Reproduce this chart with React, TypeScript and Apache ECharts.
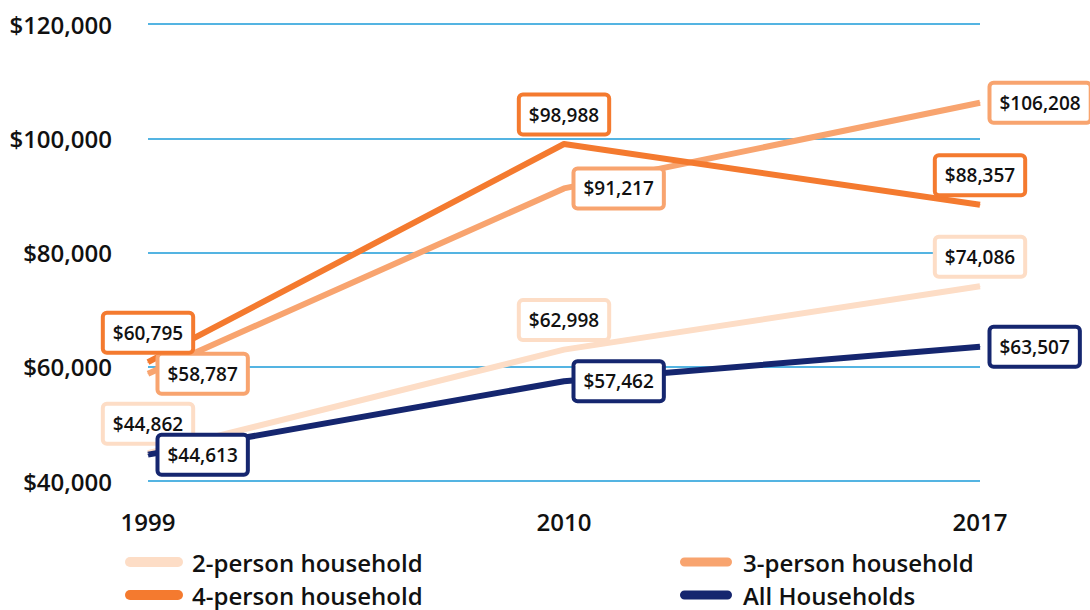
import React, { useEffect, useRef } from "react";
import * as echarts from "echarts";

const years = ["1999", "2010", "2017"];
const twoPerson = [44862, 62998, 74086];
const threePerson = [58787, 91217, 106208];
const fourPerson = [60795, 98988, 88357];
const allHouseholds = [44613, 57462, 63507];

const FONT = "'Open Sans', 'Noto Sans', sans-serif";
const fmt = (v: number) => "$" + v.toLocaleString("en-US");
const CAPSULE = "path://M5,0 H53 A5,5 0 0 1 53,10 H5 A5,5 0 0 1 5,0 Z";

function mkSeries(name: string, data: number[], color: string, pos: string) {
  return {
    name,
    type: "line",
    data,
    symbol: "circle",
    symbolSize: 1,
    itemStyle: { color },
    lineStyle: { color, width: 6, cap: "butt", join: "round" },
    label: {
      show: true,
      position: pos,
      distance: 11,
      formatter: (p: any) => fmt(p.value),
      backgroundColor: "#ffffff",
      borderColor: color,
      borderWidth: 4,
      borderRadius: 2,
      padding: [6, 8, 6, 8],
      fontFamily: FONT,
      fontSize: 19,
      fontWeight: 600,
      lineHeight: 24,
      color: "#111",
    },
    emphasis: { disabled: true },
  };
}

function mkLegend(name: string, left: number, top: number, width: number, gap: number) {
  return {
    orient: "horizontal",
    left,
    top,
    padding: 0,
    itemWidth: width,
    itemHeight: 10,
    icon: CAPSULE,
    data: [name],
    selectedMode: false,
    textStyle: {
      fontFamily: FONT,
      fontSize: 24,
      fontWeight: 600,
      lineHeight: 28,
      color: "#111",
      padding: [0, 0, 0, gap],
    },
  };
}

export default function App() {
  const ref = useRef<HTMLDivElement>(null);
  useEffect(() => {
    const chart = echarts.init(ref.current!, undefined, { renderer: "svg" });
    chart.setOption({
      animation: false,
      backgroundColor: "#ffffff",
      grid: { left: 148, right: 110, top: 24, bottom: 129 },
      xAxis: {
        type: "category",
        data: years,
        boundaryGap: false,
        axisLine: { show: false },
        axisTick: { show: false },
        axisLabel: { margin: 28, fontFamily: FONT, fontSize: 24, fontWeight: 600, color: "#111" },
      },
      yAxis: {
        type: "value",
        min: 40000,
        max: 120000,
        interval: 20000,
        axisLine: { show: false },
        axisTick: { show: false },
        splitLine: { lineStyle: { color: "#1B9BD8", width: 1.5 } },
        axisLabel: {
          margin: 36,
          formatter: (v: number) => fmt(v),
          fontFamily: FONT,
          fontSize: 24,
          fontWeight: 600,
          color: "#111",
        },
      },
      legend: [
        mkLegend("2-person household", 125, 548, 58, 4),
        mkLegend("4-person household", 125, 581, 58, 4),
        mkLegend("3-person household", 680, 548, 52, 6),
        mkLegend("All Households", 680, 581, 52, 6),
      ],
      series: [
        mkSeries("2-person household", twoPerson, "#FDDDC6", "top"),
        mkSeries("3-person household", threePerson, "#F8A46F", "right"),
        mkSeries("4-person household", fourPerson, "#F47A2F", "top"),
        mkSeries("All Households", allHouseholds, "#15266F", "right"),
      ],
    });
    return () => chart.dispose();
  }, []);
  return <div ref={ref} style={{ width: 1090, height: 610, position: "absolute", left: 0, top: 0 }} />;
}
